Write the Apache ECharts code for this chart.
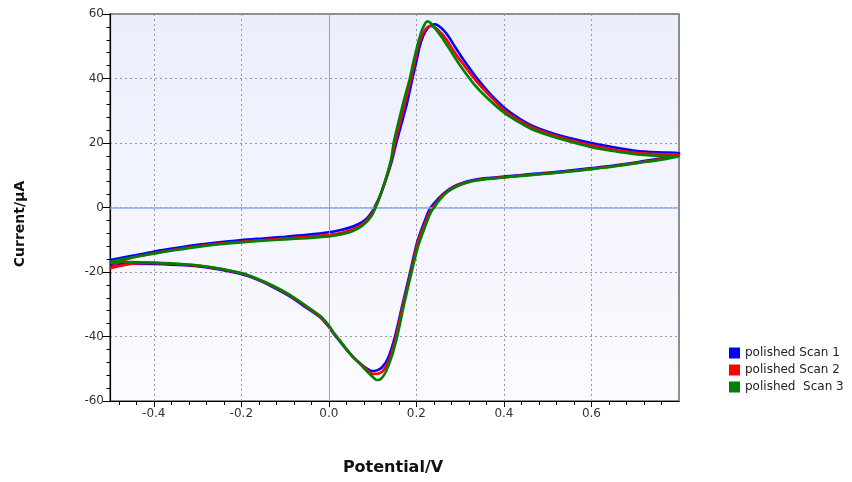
<!DOCTYPE html>
<html>
<head>
<meta charset="utf-8">
<script src="https://cdn.jsdelivr.net/npm/echarts@6/dist/echarts.min.js"></script>
<style>
html,body{margin:0;padding:0;background:#fff;}
#chart{width:852px;height:482px;}
</style>
</head>
<body>
<div id="chart"></div>
<script>
// ---- data (Potential / V, Current / µA) ----
var seriesNames = ['polished Scan 1', 'polished Scan 2', 'polished  Scan 3'];
var seriesColors = ['#0000ff', '#ff0000', '#008000'];
var xTickLabels = [-0.4, -0.2, 0.0, 0.2, 0.4, 0.6];
var xMinorTicks = [-0.48, -0.44, -0.36, -0.32, -0.28, -0.24, -0.16, -0.12, -0.08, -0.04, 0.04, 0.08, 0.12, 0.16, 0.24, 0.28, 0.32, 0.36, 0.44, 0.48, 0.52, 0.56, 0.64, 0.68, 0.72, 0.76];
var yTickLabels = [-60, -40, -20, 0, 20, 40, 60];

var scan1Forward = [[-0.5,-16.3],[-0.45,-15.0],[-0.4,-13.7],[-0.35,-12.6],[-0.3,-11.6],[-0.25,-10.8],[-0.2,-10.1],[-0.15,-9.6],[-0.1,-9.1],[-0.05,-8.5],[0.0,-7.7],[0.03,-6.9],[0.055,-5.9],[0.075,-4.6],[0.088,-3.2],[0.098,-1.5],[0.106,0.5],[0.115,3.0],[0.125,6.5],[0.135,10.5],[0.145,15.0],[0.154,20.0],[0.165,25.5],[0.178,32.0],[0.191,40.0],[0.2,45.3],[0.207,49.7],[0.215,53.0],[0.225,55.5],[0.235,56.6],[0.243,56.8],[0.252,56.2],[0.262,55.0],[0.272,53.3],[0.285,50.5],[0.298,47.8],[0.308,45.7],[0.338,40.1],[0.37,35.0],[0.402,30.8],[0.43,28.0],[0.46,25.6],[0.5,23.5],[0.536,22.0],[0.6,20.0],[0.65,18.7],[0.7,17.6],[0.75,17.1],[0.8,16.9]];
var scan1Reverse = [[0.8,16.5],[0.75,15.0],[0.711,14.2],[0.65,13.0],[0.6,12.2],[0.54,11.3],[0.483,10.6],[0.44,10.1],[0.4,9.6],[0.36,9.1],[0.33,8.5],[0.3,7.4],[0.285,6.5],[0.27,5.2],[0.254,3.3],[0.24,1.2],[0.231,-0.3],[0.22,-3.9],[0.21,-7.5],[0.201,-11.1],[0.186,-19.9],[0.167,-30.8],[0.151,-40.1],[0.136,-46.5],[0.122,-49.5],[0.11,-50.5],[0.098,-50.7],[0.085,-49.8],[0.071,-48.3],[0.055,-46.3],[0.041,-44.2],[0.025,-41.5],[0.01,-39.0],[0.0,-37.0],[-0.02,-34.0],[-0.054,-30.8],[-0.09,-27.5],[-0.13,-24.5],[-0.165,-22.3],[-0.2,-20.6],[-0.25,-19.2],[-0.283,-18.5],[-0.33,-17.9],[-0.4,-17.5],[-0.45,-17.4],[-0.5,-17.8]];

var scan2Forward = [[-0.5,-18.8],[-0.48,-17.0],[-0.45,-15.6],[-0.4,-14.2],[-0.35,-13.0],[-0.3,-12.0],[-0.25,-11.2],[-0.2,-10.6],[-0.15,-10.1],[-0.1,-9.6],[-0.05,-9.1],[0.0,-8.5],[0.03,-7.8],[0.055,-6.8],[0.075,-5.3],[0.088,-3.8],[0.098,-2.0],[0.106,0.2],[0.115,2.9],[0.125,6.6],[0.135,10.8],[0.145,15.8],[0.151,20.0],[0.163,26.5],[0.176,33.5],[0.188,40.0],[0.196,45.0],[0.203,49.5],[0.212,53.0],[0.222,55.5],[0.232,56.3],[0.24,56.0],[0.25,55.0],[0.26,53.6],[0.27,51.8],[0.283,49.0],[0.296,46.4],[0.305,44.8],[0.335,39.5],[0.37,34.3],[0.402,30.0],[0.43,27.4],[0.46,25.1],[0.5,23.0],[0.536,21.5],[0.6,19.3],[0.65,18.0],[0.7,17.0],[0.75,16.6],[0.8,16.4]];
var scan2Reverse = [[0.8,16.2],[0.75,14.8],[0.711,14.0],[0.65,12.8],[0.6,12.0],[0.54,11.1],[0.483,10.4],[0.44,9.9],[0.4,9.4],[0.36,8.9],[0.33,8.3],[0.3,7.2],[0.285,6.2],[0.27,4.9],[0.255,3.0],[0.242,0.8],[0.232,-1.0],[0.221,-4.5],[0.211,-8.0],[0.202,-11.5],[0.188,-19.7],[0.169,-30.5],[0.154,-39.8],[0.14,-46.5],[0.126,-50.3],[0.114,-51.5],[0.1,-51.6],[0.087,-50.3],[0.071,-48.4],[0.055,-46.3],[0.041,-44.1],[0.025,-41.3],[0.01,-38.8],[0.0,-36.8],[-0.02,-33.8],[-0.054,-30.5],[-0.09,-27.2],[-0.13,-24.3],[-0.165,-22.1],[-0.2,-20.4],[-0.25,-19.0],[-0.283,-18.3],[-0.33,-17.7],[-0.4,-17.2],[-0.45,-17.4],[-0.5,-18.8]];

var scan3Forward = [[-0.5,-16.8],[-0.45,-15.5],[-0.4,-14.3],[-0.35,-13.2],[-0.3,-12.2],[-0.25,-11.4],[-0.2,-10.8],[-0.15,-10.3],[-0.1,-9.9],[-0.05,-9.5],[0.0,-9.0],[0.03,-8.3],[0.055,-7.3],[0.075,-5.8],[0.088,-4.2],[0.098,-2.5],[0.107,0.0],[0.115,2.8],[0.125,6.8],[0.135,11.2],[0.143,15.5],[0.148,20.0],[0.16,27.0],[0.173,34.0],[0.185,40.0],[0.193,45.0],[0.2,49.0],[0.208,53.0],[0.216,56.0],[0.225,57.7],[0.232,57.3],[0.24,56.0],[0.25,54.3],[0.26,52.4],[0.27,50.3],[0.283,47.6],[0.3,44.0],[0.33,38.5],[0.36,34.2],[0.402,29.2],[0.43,26.8],[0.46,24.5],[0.5,22.5],[0.536,21.0],[0.6,18.7],[0.65,17.5],[0.7,16.5],[0.75,16.0],[0.8,15.8]];
var scan3Reverse = [[0.8,15.8],[0.75,14.6],[0.711,13.9],[0.65,12.7],[0.6,11.9],[0.54,11.0],[0.483,10.3],[0.44,9.8],[0.4,9.3],[0.36,8.8],[0.33,8.2],[0.3,7.0],[0.285,6.0],[0.27,4.7],[0.256,2.8],[0.243,0.5],[0.233,-1.5],[0.223,-4.8],[0.213,-8.5],[0.204,-12.0],[0.19,-19.5],[0.172,-30.0],[0.157,-39.5],[0.143,-46.5],[0.13,-51.0],[0.12,-53.0],[0.11,-53.5],[0.1,-52.5],[0.085,-50.5],[0.071,-48.5],[0.055,-46.3],[0.041,-44.0],[0.025,-41.2],[0.01,-38.6],[0.0,-36.6],[-0.02,-33.6],[-0.054,-30.3],[-0.09,-27.0],[-0.13,-24.1],[-0.165,-22.0],[-0.2,-20.3],[-0.25,-18.9],[-0.283,-18.2],[-0.33,-17.6],[-0.4,-17.1],[-0.45,-16.9],[-0.5,-17.0]];

var scans = [scan1Forward.concat(scan1Reverse), scan2Forward.concat(scan2Reverse), scan3Forward.concat(scan3Reverse)];

var chart = echarts.init(document.getElementById('chart'), null, {renderer: 'canvas'});
var FONT = 'DejaVu Sans';

var series = [{
  type: 'line', name: '_zero', data: [[0, 0]], showSymbol: false, symbolSize: 0,
  lineStyle: {width: 0}, silent: true, z: 1, legendHoverLink: false,
  markLine: {
    silent: true, symbol: 'none', label: {show: false}, animation: false,
    data: [
      {xAxis: 0, lineStyle: {color: '#7fa6e6', width: 1, type: 'solid'}},
      {yAxis: 0, lineStyle: {color: '#86abe8', width: 1.6, type: 'solid'}}
    ]
  }
}];
for (var i = 0; i < scans.length; i++) {
  series.push({
    type: 'line', name: seriesNames[i], data: scans[i], showSymbol: false,
    smooth: 0.25, z: 3 + i,
    lineStyle: {color: seriesColors[i], width: 2.6},
    itemStyle: {color: seriesColors[i]}
  });
}

var option = {
  animation: false,
  backgroundColor: '#ffffff',
  textStyle: {fontFamily: FONT},
  grid: {
    left: 110, top: 14, right: 173, bottom: 81, show: true,
    backgroundColor: {type: 'linear', x: 0, y: 0, x2: 0, y2: 1,
      colorStops: [{offset: 0, color: '#ebeefc'}, {offset: 1, color: '#fbfbff'}]},
    borderColor: '#6a6a6a', borderWidth: 1.5
  },
  legend: {
    data: seriesNames, orient: 'vertical', left: 724, top: 342,
    itemWidth: 11, itemHeight: 11, itemGap: 5, icon: 'rect',
    textStyle: {fontFamily: FONT, fontSize: 12, color: '#222'}
  },
  graphic: [
    {type: 'text', x: 20, y: 224, rotation: Math.PI / 2,
     style: {text: 'Current/µA', fontFamily: FONT, fontWeight: 'bold', fontSize: 14, fill: '#111', textAlign: 'center', textVerticalAlign: 'middle'}},
    {type: 'text', x: 393, y: 468,
     style: {text: 'Potential/V', fontFamily: FONT, fontWeight: 'bold', fontSize: 16, fill: '#111', textAlign: 'center', textVerticalAlign: 'middle'}}
  ],
  xAxis: [{
    type: 'value', min: -0.5, max: 0.8, position: 'bottom',
    axisLine: {show: true, onZero: false, lineStyle: {color: '#000', width: 1.2}},
    axisTick: {show: true, length: 6, customValues: xTickLabels, lineStyle: {color: '#000'}},
    axisLabel: {show: true, customValues: xTickLabels, margin: 7, fontFamily: FONT, fontSize: 12, color: '#333',
      formatter: function (v) { return v.toFixed(1); }},
    splitLine: {show: true, lineStyle: {color: '#9a9a9a', type: [2, 3], width: 1}}
  }, {
    type: 'value', min: -0.5, max: 0.8, position: 'bottom',
    axisLine: {show: false, onZero: false},
    axisTick: {show: true, length: 4, customValues: xMinorTicks, lineStyle: {color: '#000'}},
    axisLabel: {show: false},
    splitLine: {show: false}
  }],
  yAxis: {
    type: 'value', min: -60, max: 60, interval: 20,
    axisLine: {show: true, onZero: false, lineStyle: {color: '#000', width: 1.2}},
    axisTick: {show: true, length: 7, lineStyle: {color: '#000'}},
    minorTick: {show: true, splitNumber: 5, length: 3.5, lineStyle: {color: '#000'}},
    axisLabel: {margin: 6, fontFamily: FONT, fontSize: 12, color: '#333'},
    splitLine: {show: true, lineStyle: {color: '#9a9a9a', type: [2, 3], width: 1}}
  },
  series: series
};
chart.setOption(option);
</script>
</body>
</html>
